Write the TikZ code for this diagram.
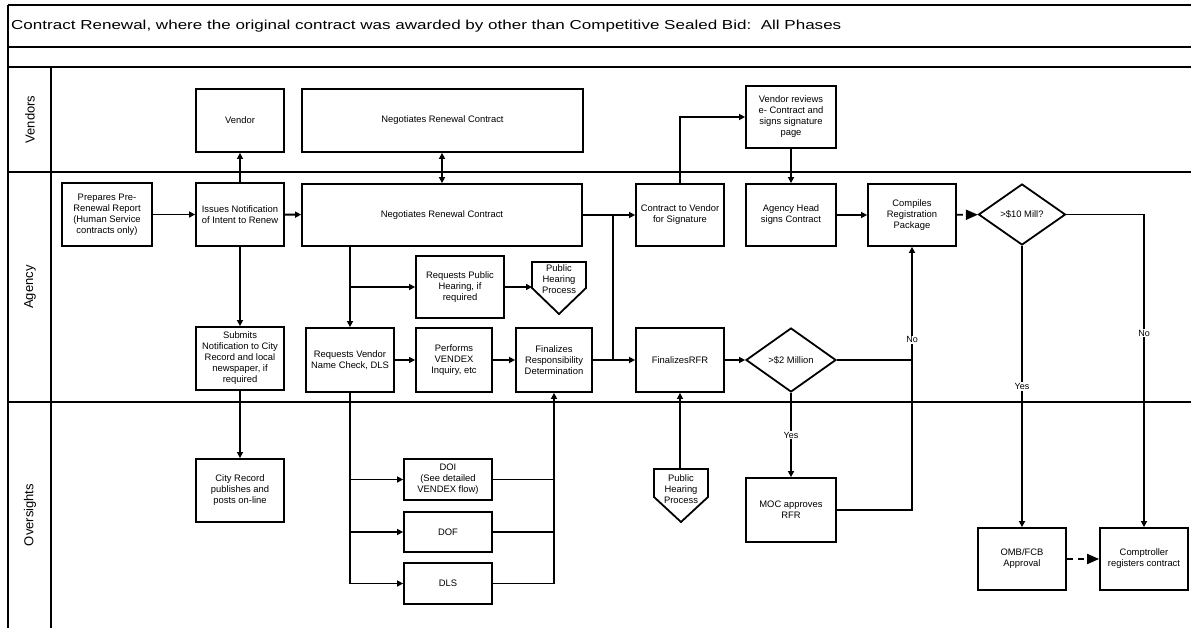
\documentclass[tikz,border=0pt]{standalone}
\usepackage{graphicx}
\usepackage{fontspec}
\setmainfont{Liberation Sans}
\usepackage{tikz}
\usetikzlibrary{arrows.meta,shapes.geometric,calc}

\tikzset{
  lane/.style={line width=1.8pt},
  lanelabel/.style={rotate=90,inner sep=0pt,font=\fontsize{13}{15}\selectfont},
  box/.style={draw,line width=1.8pt,align=center,inner sep=1pt,font=\fontsize{9.4}{11}\selectfont},
  sz/.style 2 args={minimum width=#1pt,minimum height=#2pt},
  decision/.style={draw,diamond,line width=1.8pt,inner sep=0pt,align=center,font=\fontsize{9.4}{11}\selectfont},
  offtext/.style={align=center,inner sep=0pt,font=\fontsize{9.4}{11}\selectfont},
  conn/.style={line width=1.8pt},
  arr/.style={line width=1.8pt,-{Triangle[length=6pt,width=6pt]}},
  arrboth/.style={line width=1.8pt,{Triangle[length=6pt,width=6pt]}-{Triangle[length=6pt,width=6pt]}},
  bigarr/.style={line width=1.8pt,dash pattern=on 6pt off 5pt,-{Triangle[length=12pt,width=10pt]}},
  lbl/.style={fill=white,inner sep=1pt,font=\fontsize{9}{10}\selectfont}
}

\begin{document}
\begin{tikzpicture}[x=1pt,y=-1pt]
    \useasboundingbox (0,0) rectangle (1191,628);

    % frame and swim lanes
    \foreach \y in {5,47,67,172,402}{%
      \draw[lane] (8,\y) -- (1191,\y);
    }
    \draw[lane] (8,5) -- (8,628);
    \draw[lane] (51,67) -- (51,628);

    \node[anchor=base west,inner sep=0pt,font=\fontsize{13}{15}\selectfont] (title) at (11,29.5)
        {\scalebox{1.31}[1]{Contract Renewal, where the original contract was awarded by other than Competitive Sealed Bid:\ \ All Phases}};

    \foreach \n/\y/\t in {lv/119.5/Vendors, la/287/Agency, lo/515/Oversights}{%
      \node[lanelabel] (\n) at (30,\y) {\t};
    }

    % Vendors
    \node[box,sz={88}{63}] (vend) at (240,120.5) {Vendor};
    \node[box,sz={281}{63}] (vneg) at (442.5,120.5) {Negotiates Renewal Contract};
    \node[box,sz={90}{62}] (vrev) at (791,117) {Vendor reviews\\e- Contract and\\signs signature\\page};

    % Agency
    \node[box,sz={90}{63}] (prep) at (107,214.5) {Prepares Pre-\\Renewal Report\\(Human Service\\contracts only)};
    \node[box,sz={88}{63}] (issue) at (240,214.5) {Issues Notification\\of Intent to Renew};
    \node[box,sz={280}{62}] (aneg) at (442,215) {Negotiates Renewal Contract};
    \node[box,sz={88}{62}] (ctv) at (680,215) {Contract to Vendor\\for Signature};
    \node[box,sz={90}{62}] (ahead) at (791,215) {Agency Head\\signs Contract};
    \node[box,sz={88}{62}] (comp) at (912,215) {Compiles\\Registration\\Package};
    \node[decision,sz={87}{61}] (d10) at (1022,214.5) {>\$10 Mill?};
    \node[box,sz={88}{62}] (rph) at (460,287) {Requests Public\\Hearing, if\\required};
    \node[box,sz={88}{63}] (subm) at (240,358.5) {Submits\\Notification to City\\Record and local\\newspaper, if\\required};
    \node[box,sz={88}{64}] (rvn) at (350,360) {Requests Vendor\\Name Check, DLS};
    \node[box,sz={76}{64}] (perf) at (454,360) {Performs\\VENDEX\\Inquiry, etc};
    \node[box,sz={76}{64}] (fres) at (554,360) {Finalizes\\Responsibility\\Determination};
    \node[box,sz={88}{64}] (frfr) at (680,360) {FinalizesRFR};
    \node[decision,sz={90}{64}] (d2) at (791,360) {>\$2 Million};

    % off-page: public hearing
    \draw[conn] (532,262) -- (586,262) -- (586,288) -- (559,314) -- (532,288) -- cycle;
    \node[offtext] (php1) at (559,279.5) {Public\\Hearing\\Process};
    \coordinate (php1w) at (532,287);

    % Oversights
    \node[box,sz={88}{63}] (city) at (240,490.5) {City Record\\publishes and\\posts on-line};
    \node[box,sz={88}{41}] (doi) at (448,479.5) {DOI\\(See detailed\\VENDEX flow)};
    \node[box,sz={88}{40}] (dof) at (448,532) {DOF};
    \node[box,sz={88}{41}] (dls) at (448,583.5) {DLS};
    \node[box,sz={90}{64}] (moc) at (791,510) {MOC approves\\RFR};
    \node[box,sz={88}{62}] (omb) at (1022,559) {OMB/FCB\\Approval};
    \node[box,sz={88}{62}] (ctrl) at (1144,559) {Comptroller\\registers contract};

    \draw[conn] (654,469) -- (708,469) -- (708,497) -- (681,522) -- (654,497) -- cycle;
    \node[offtext] (php2) at (681,489.5) {Public\\Hearing\\Process};
    \coordinate (php2n) at (680,469);

    % flow
    \draw[arr] (prep) -- (issue);
    \draw[arr] (issue) -- (vend);
    \draw[arr] (issue) -- (aneg);
    \draw[arr] (issue) -- (subm);
    \draw[arr] (subm) -- (city);
    \draw[arrboth] (aneg.north) -- (aneg.north |- vneg.south);
    \draw[arr] (rvn.north |- aneg.south) -- (rvn.north);
    \draw[arr] (rvn.north |- rph.west) -- (rph.west);
    \draw[arr] (rph) -- (php1w);
    \draw[arr] (rvn) -- (perf);
    \draw[arr] (perf) -- (fres);
    \draw[arr] (aneg) -- (ctv);
    \draw[arr] (fres) -- (frfr);
    \coordinate (jn) at (613,215);
    \draw[conn] (jn) -- (jn |- fres.east);
    \draw[arr] (ctv.north) |- (vrev.west);
    \draw[arr] (vrev) -- (ahead);
    \draw[arr] (ahead) -- (comp);
    \draw[bigarr] (comp) -- (d10);
    \draw[arr] (d10.east) -| (ctrl.north) node[lbl,pos=0.69] {No};
    \draw[arr] (d10.south) -- (omb.north) node[lbl,pos=0.5] {Yes};
    \draw[arr] (frfr) -- (d2);
    \draw[arr] (php2n) -- (frfr.south);
    \draw[arr] (d2.south) -- (moc.north) node[lbl,pos=0.5] {Yes};
    \draw[arr] (d2.east) -| (comp.south) node[lbl,pos=0.59] {No};
    \draw[conn] (moc.east) -| (comp.south |- d2.east);
    \draw[bigarr] (omb) -- (ctrl);

    % oversight checks
    \draw[conn] (rvn.south) -- (rvn.south |- dls.west);
    \foreach \b in {doi,dof,dls}{%
      \draw[arr] (rvn.south |- \b.west) -- (\b.west);
      \draw[conn] (\b.east) -- (fres.south |- \b.east);
    }
    \draw[arr] (fres.south |- dls.east) -- (fres.south);
\end{tikzpicture}
\end{document}
